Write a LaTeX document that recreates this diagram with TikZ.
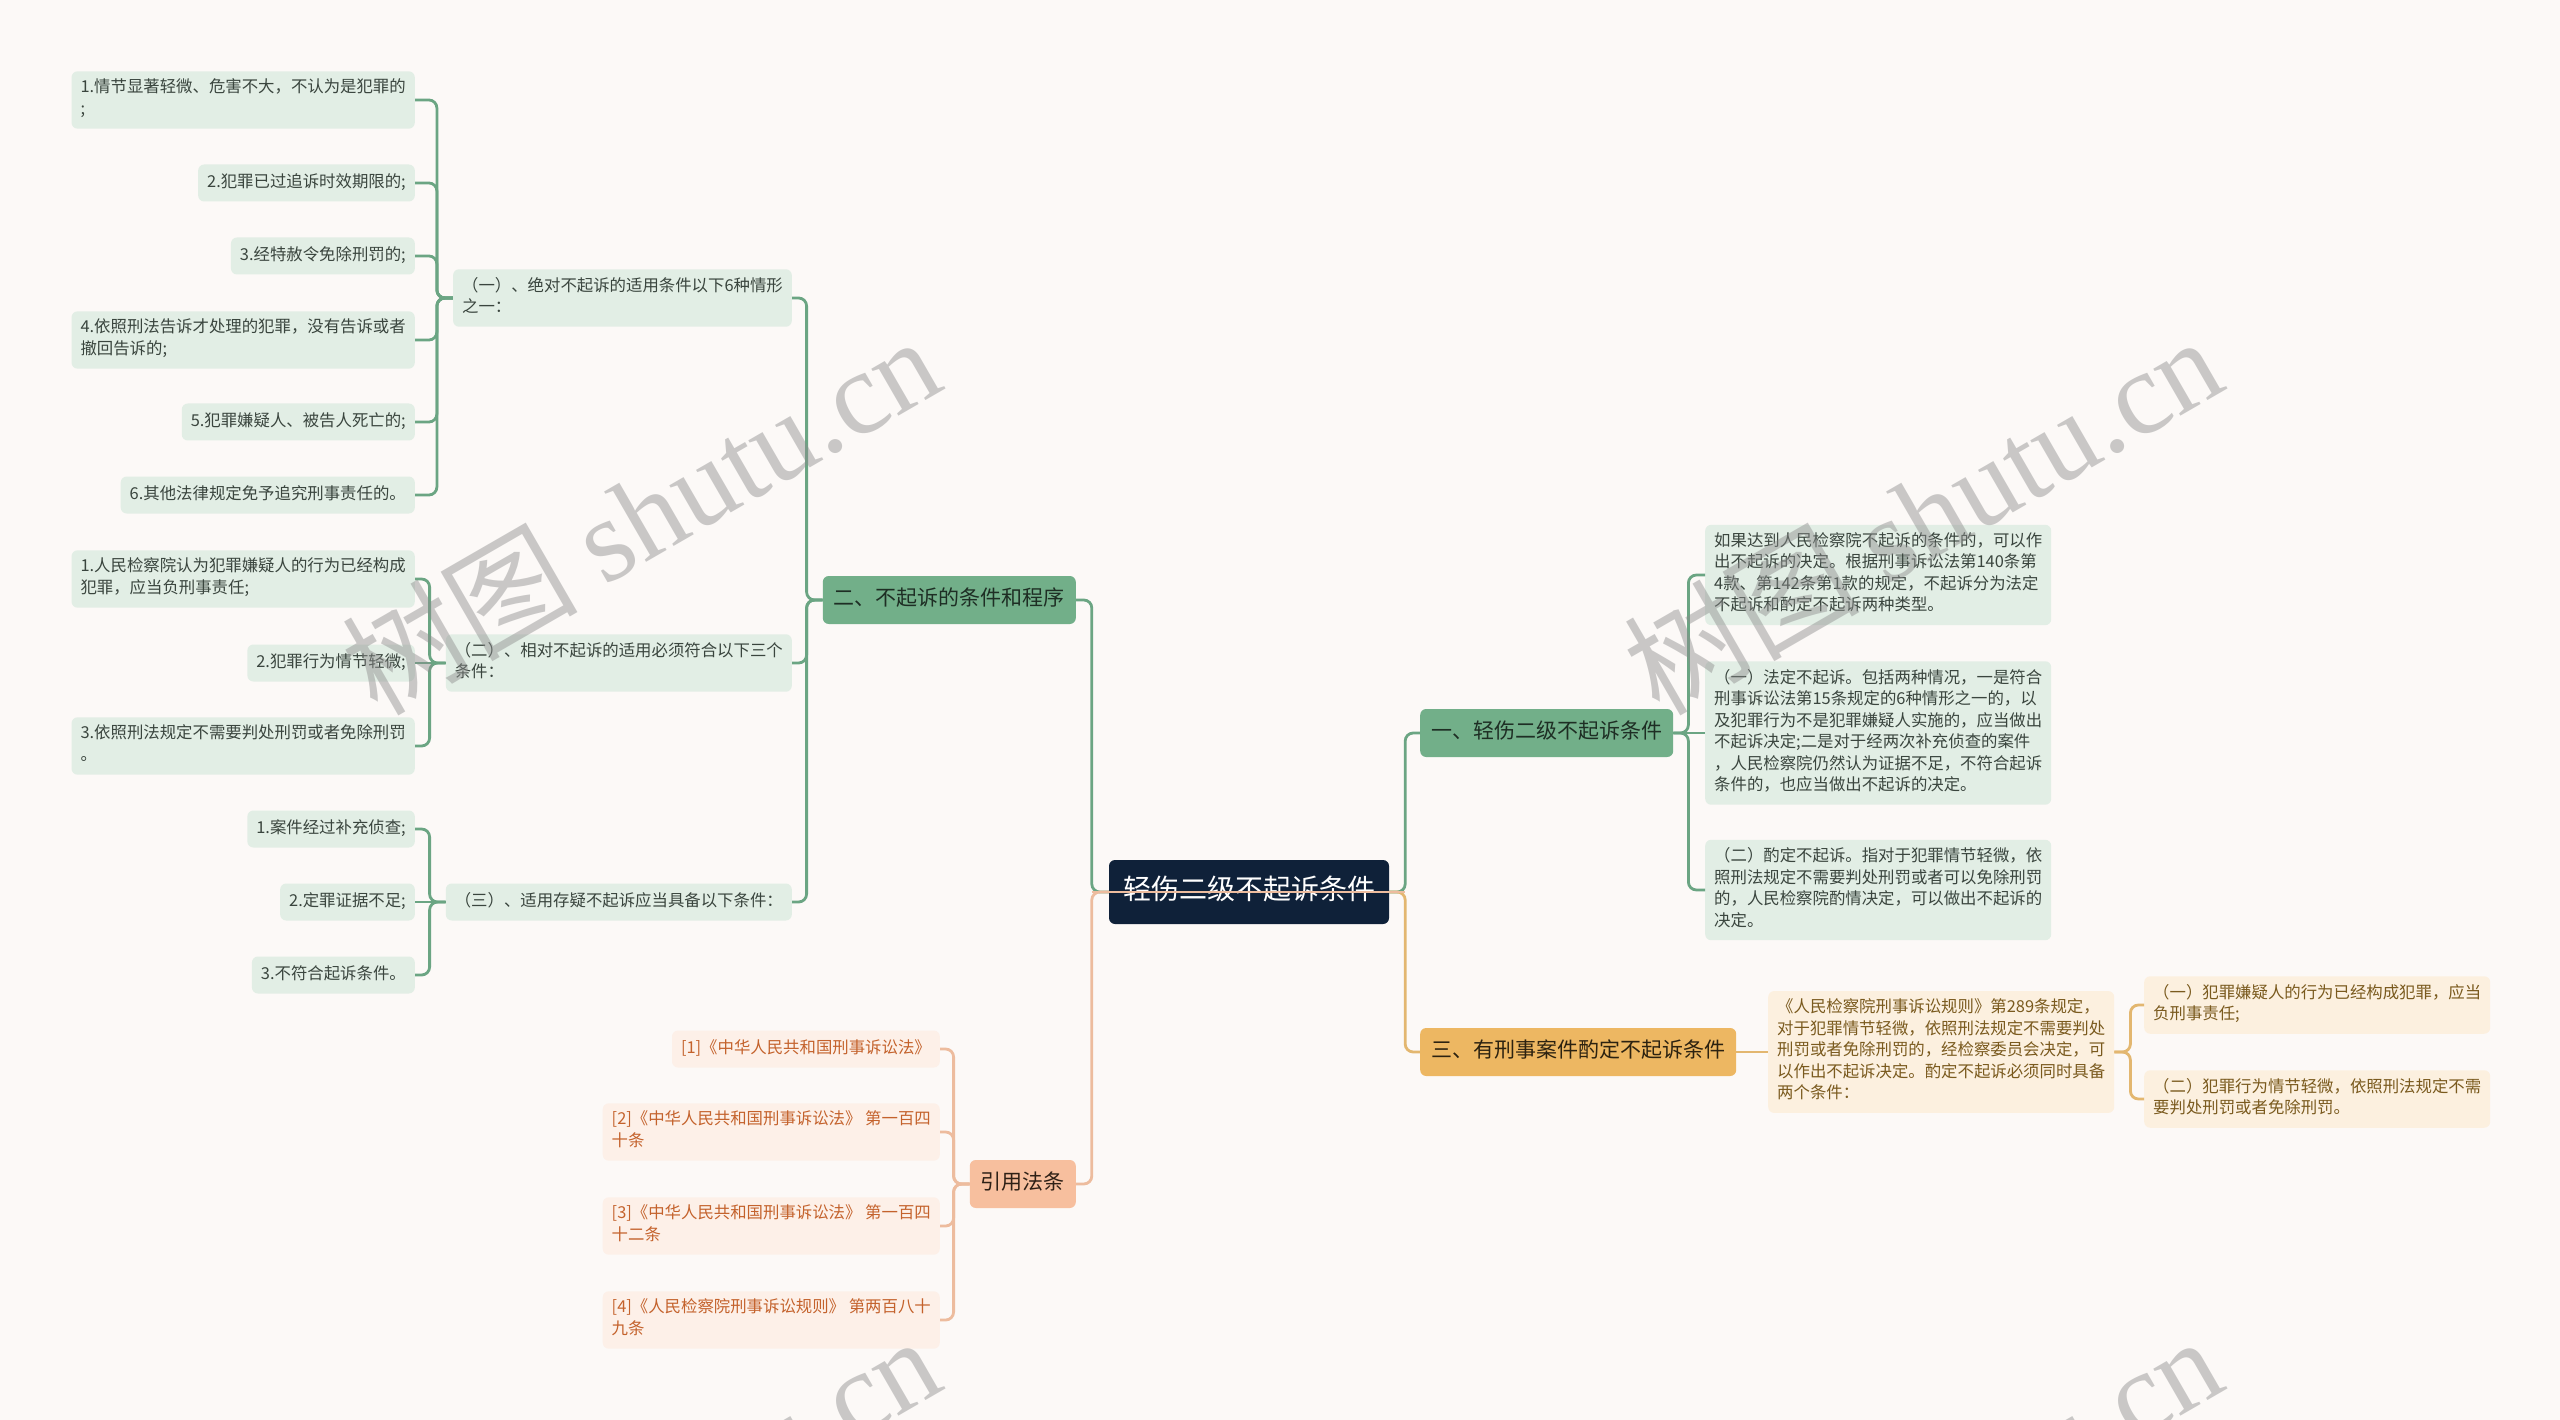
\documentclass[tikz,border=0pt]{standalone}
\usepackage{fontspec}
\setmainfont{Noto Sans CJK SC}
\newfontfamily\wmlatin{Liberation Serif}
\usetikzlibrary{calc}
\definecolor{bg}{HTML}{FCF9F7}
\definecolor{rootfill}{HTML}{0F2139}
\definecolor{gmain}{HTML}{72AF89}
\definecolor{gmaintext}{HTML}{1E2E24}
\definecolor{glight}{HTML}{E2EEE5}
\definecolor{gtext}{HTML}{3A453E}
\definecolor{gline}{HTML}{6BA583}
\definecolor{amain}{HTML}{EDB762}
\definecolor{amaintext}{HTML}{2C2210}
\definecolor{alight}{HTML}{FCF0DF}
\definecolor{atext}{HTML}{7A5A1E}
\definecolor{aline}{HTML}{E3B770}
\definecolor{pmain}{HTML}{F7BF9E}
\definecolor{pmaintext}{HTML}{2E2016}
\definecolor{plight}{HTML}{FDF0E8}
\definecolor{ptext}{HTML}{C4622C}
\definecolor{pline}{HTML}{EDBC9E}
\definecolor{wmc}{HTML}{8C8C8C}
\tikzset{
  base/.style={rounded corners=6pt, inner xsep=9pt, inner ysep=7.75pt, align=left,
    font=\fontsize{16.4}{21.5}\selectfont,
    execute at begin node=\strut, execute at end node=\strut},
  gleaf/.style={base, fill=glight, text=gtext},
  aleaf/.style={base, fill=alight, text=atext},
  pleaf/.style={base, fill=plight, text=ptext},
  mainbox/.style={rounded corners=6pt, inner xsep=11pt, inner ysep=10.5pt,
    font=\fontsize{21}{27}\selectfont,
    execute at begin node=\strut, execute at end node=\strut},
  gmainbox/.style={mainbox, fill=gmain, text=gmaintext},
  amainbox/.style={mainbox, fill=amain, text=amaintext},
  pmainbox/.style={mainbox, fill=pmain, text=pmaintext},
  rootbox/.style={rounded corners=6pt, fill=rootfill, text=white, inner xsep=14pt, inner ysep=14pt,
    font=\fontsize{28}{36}\selectfont, execute at begin node=\strut},
  con/.style={line width=2.8pt, rounded corners=8pt},
  gcon/.style={con, draw=gline},
  acon/.style={con, draw=aline},
  pcon/.style={con, draw=pline},
  wm/.style={rotate=30, text=wmc, text opacity=0.45, font=\fontsize{118}{118}\selectfont}
}
\begin{document}
\begin{tikzpicture}[x=1pt, y=-1pt]
\useasboundingbox (0,0) rectangle (2560,1420);
\fill[bg] (0,0) rectangle (2560,1420);

% root and main branches
\node[rootbox] (root) at (1249,892) {轻伤二级不起诉条件};
\node[gmainbox, anchor=west] (N1) at (1420,733) {一、轻伤二级不起诉条件};
\node[gmainbox, anchor=east] (N2) at (1076,600) {二、不起诉的条件和程序};
\node[amainbox, anchor=west] (N3) at (1420,1052) {三、有刑事案件酌定不起诉条件};
\node[pmainbox, anchor=east] (Y) at (1076,1184) {引用法条};

% branch one details
\node[gleaf, anchor=west] (D1) at (1705,575) {如果达到人民检察院不起诉的条件的，可以作\\出不起诉的决定。根据刑事诉讼法第140条第\\4款、第142条第1款的规定，不起诉分为法定\\不起诉和酌定不起诉两种类型。};
\node[gleaf, anchor=west] (D2) at (1705,733) {（一）法定不起诉。包括两种情况，一是符合\\刑事诉讼法第15条规定的6种情形之一的，以\\及犯罪行为不是犯罪嫌疑人实施的，应当做出\\不起诉决定;二是对于经两次补充侦查的案件\\，人民检察院仍然认为证据不足，不符合起诉\\条件的，也应当做出不起诉的决定。};
\node[gleaf, anchor=west] (D3) at (1705,890) {（二）酌定不起诉。指对于犯罪情节轻微，依\\照刑法规定不需要判处刑罚或者可以免除刑罚\\的，人民检察院酌情决定，可以做出不起诉的\\决定。};

% branch three details
\node[aleaf, anchor=west] (E) at (1768,1052) {《人民检察院刑事诉讼规则》第289条规定，\\对于犯罪情节轻微，依照刑法规定不需要判处\\刑罚或者免除刑罚的，经检察委员会决定，可\\以作出不起诉决定。酌定不起诉必须同时具备\\两个条件：};
\node[aleaf, anchor=west] (F1) at (2144,1005) {（一）犯罪嫌疑人的行为已经构成犯罪，应当\\负刑事责任;};
\node[aleaf, anchor=west] (F2) at (2144,1099) {（二）犯罪行为情节轻微，依照刑法规定不需\\要判处刑罚或者免除刑罚。};

% branch two subnodes
\node[gleaf, anchor=east] (S1) at (792,298) {（一）、绝对不起诉的适用条件以下6种情形\\之一：};
\node[gleaf, anchor=east] (S2) at (792,663) {（二）、相对不起诉的适用必须符合以下三个\\条件：};
\node[gleaf, anchor=east] (S3) at (792,902) {（三）、适用存疑不起诉应当具备以下条件：};

\node[gleaf, anchor=east] (L1) at (415,100) {1.情节显著轻微、危害不大，不认为是犯罪的\\;};
\node[gleaf, anchor=east] (L2) at (415,183) {2.犯罪已过追诉时效期限的;};
\node[gleaf, anchor=east] (L3) at (415,256) {3.经特赦令免除刑罚的;};
\node[gleaf, anchor=east] (L4) at (415,340) {4.依照刑法告诉才处理的犯罪，没有告诉或者\\撤回告诉的;};
\node[gleaf, anchor=east] (L5) at (415,422) {5.犯罪嫌疑人、被告人死亡的;};
\node[gleaf, anchor=east] (L6) at (415,495) {6.其他法律规定免予追究刑事责任的。};

\node[gleaf, anchor=east] (M1) at (415,579) {1.人民检察院认为犯罪嫌疑人的行为已经构成\\犯罪，应当负刑事责任;};
\node[gleaf, anchor=east] (M2) at (415,663) {2.犯罪行为情节轻微;};
\node[gleaf, anchor=east] (M3) at (415,746) {3.依照刑法规定不需要判处刑罚或者免除刑罚\\。};

\node[gleaf, anchor=east] (Q1) at (415,829) {1.案件经过补充侦查;};
\node[gleaf, anchor=east] (Q2) at (415,902) {2.定罪证据不足;};
\node[gleaf, anchor=east] (Q3) at (415,975) {3.不符合起诉条件。};

% citations
\node[pleaf, anchor=east] (R1) at (940,1049) {[1]《中华人民共和国刑事诉讼法》};
\node[pleaf, anchor=east] (R2) at (940,1132) {[2]《中华人民共和国刑事诉讼法》 第一百四\\十条};
\node[pleaf, anchor=east] (R3) at (940,1226) {[3]《中华人民共和国刑事诉讼法》 第一百四\\十二条};
\node[pleaf, anchor=east] (R4) at (940,1320) {[4]《人民检察院刑事诉讼规则》 第两百八十\\九条};

% connectors: root trunk
\draw[gcon] (root.west) -- ++(-17,0) |- (N2.east);
\draw[pcon] (root.west) -- ++(-17,0) |- (Y.east);
\draw[gcon] (root.east) -- ++(16,0) |- (N1.west);
\draw[acon] (root.east) -- ++(16,0) |- (N3.west);
\draw[pline, line width=2pt] ($(root.west)+(-17,0)$) -- ($(root.east)+(16,0)$);

% branch one
\draw[gcon] (N1.east) -- ++(15,0) |- (D1.west);
\draw[gcon] (N1.east) -- (D2.west);
\draw[gcon] (N1.east) -- ++(15,0) |- (D3.west);

% branch three
\draw[acon] (N3.east) -- (E.west);
\draw[acon] (E.east) -- ++(16,0) |- (F1.west);
\draw[acon] (E.east) -- ++(16,0) |- (F2.west);

% branch two
\draw[gcon] (N2.west) -- ++(-16,0) |- (S1.east);
\draw[gcon] (N2.west) -- ++(-16,0) |- (S2.east);
\draw[gcon] (N2.west) -- ++(-16,0) |- (S3.east);
\foreach \t in {L1,L2,L3,L4,L5,L6}{\draw[gcon] (S1.west) -- ++(-16,0) |- (\t.east);}
\draw[gcon] (S2.west) -- ++(-16,0) |- (M1.east);
\draw[gcon] (S2.west) -- (M2.east);
\draw[gcon] (S2.west) -- ++(-16,0) |- (M3.east);
\draw[gcon] (S3.west) -- ++(-16,0) |- (Q1.east);
\draw[gcon] (S3.west) -- (Q2.east);
\draw[gcon] (S3.west) -- ++(-16,0) |- (Q3.east);

% citations
\foreach \t in {R1,R2,R3,R4}{\draw[pcon] (Y.west) -- ++(-16,0) |- (\t.east);}

% watermark
\begin{scope}
\clip (0,0) rectangle (2560,1420);
\foreach \cx/\cy [count=\i] in {640/514, 1922/514, 640/1514, 1922/1514}
  \node[wm] (wm\i) at (\cx,\cy) {树图 {\wmlatin shutu.cn}};
\end{scope}
\end{tikzpicture}
\end{document}
